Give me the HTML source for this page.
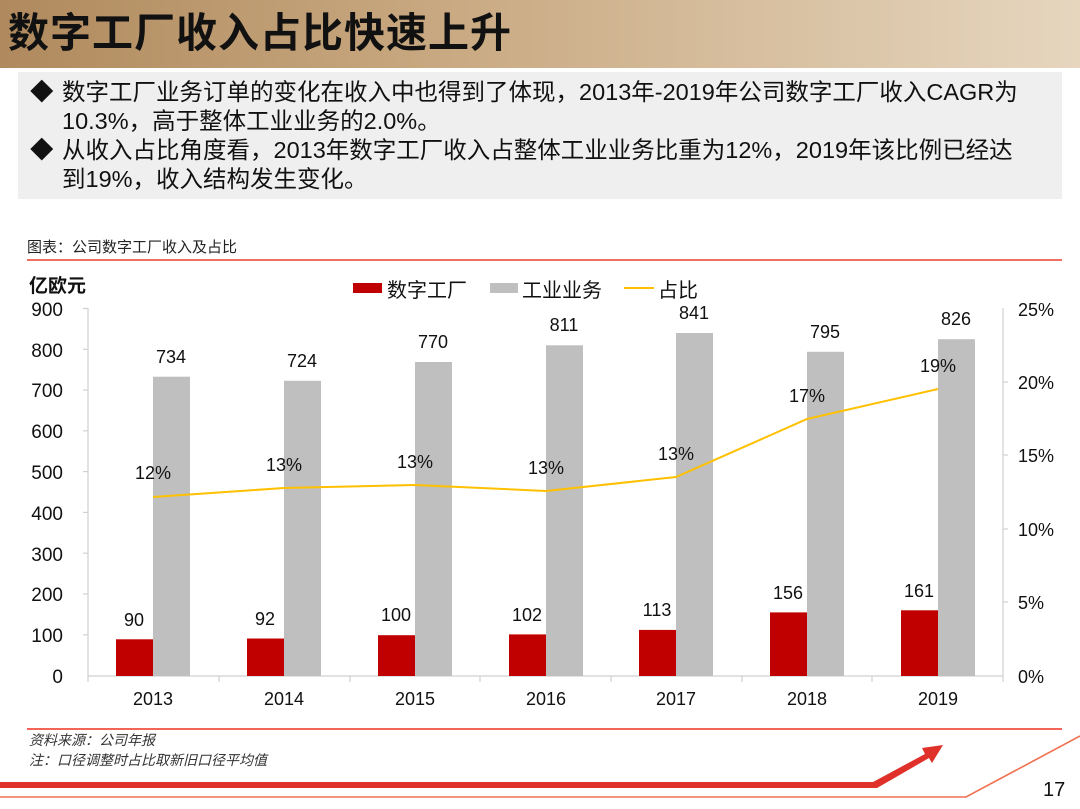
<!DOCTYPE html>
<html><head><meta charset="utf-8"><style>
body{margin:0;width:1080px;height:809px;overflow:hidden;background:#fff;font-family:"Liberation Sans","Noto Sans CJK SC",sans-serif;position:relative}
.hdr{position:absolute;left:0;top:0;width:1080px;height:68px;background:linear-gradient(90deg,#b08a5e 0%,#c8a880 40%,#e6d6bf 100%);}
.hdr h1{margin:0;position:absolute;left:8px;top:9px;font-size:41px;line-height:48px;font-weight:bold;color:#111;letter-spacing:1px}
.box{position:absolute;left:18px;top:72px;width:1044px;height:127px;background:#efefef}
.box p{margin:0;position:absolute;left:12px;font-size:23.5px;color:#111;line-height:29px;white-space:nowrap}
.box p span{display:inline-block;width:32px}
</style></head><body>
<div class="hdr"><h1>数字工厂收入占比快速上升</h1></div>
<div class="box">
<p style="top:6px"><span>◆</span>数字工厂业务订单的变化在收入中也得到了体现，2013年-2019年公司数字工厂收入CAGR为<br><span></span>10.3%，高于整体工业业务的2.0%。</p>
<p style="top:64px"><span>◆</span>从收入占比角度看，2013年数字工厂收入占整体工业业务比重为12%，2019年该比例已经达<br><span></span>到19%，收入结构发生变化。</p>
</div>
<svg width="1080" height="809" style="position:absolute;left:0;top:0" font-family="Liberation Sans, Noto Sans CJK SC, sans-serif">
<text x="27" y="252" font-size="15" fill="#222">图表：公司数字工厂收入及占比</text>
<line x1="27" y1="260" x2="1062" y2="260" stroke="#f07060" stroke-width="2"/>
<text x="29" y="292" font-size="19" font-weight="bold" fill="#111">亿欧元</text>
<rect x="353" y="283" width="29" height="10" fill="#c00000"/>
<text x="387" y="297" font-size="20" fill="#111">数字工厂</text>
<rect x="490" y="283" width="28" height="10" fill="#bfbfbf"/>
<text x="522" y="297" font-size="20" fill="#111">工业业务</text>
<line x1="624" y1="288" x2="654" y2="288" stroke="#ffc000" stroke-width="2"/>
<text x="658" y="297" font-size="20" fill="#111">占比</text>
<g stroke="#d0d0d0" stroke-width="1.2">
<line x1="88" y1="308" x2="88" y2="676"/>
<line x1="1003" y1="308" x2="1003" y2="676"/>
<line x1="88" y1="676" x2="1003" y2="676"/>
<line x1="83" y1="308.5" x2="88" y2="308.5"/><line x1="83" y1="349.3" x2="88" y2="349.3"/><line x1="83" y1="390" x2="88" y2="390"/><line x1="83" y1="430.8" x2="88" y2="430.8"/><line x1="83" y1="471.6" x2="88" y2="471.6"/><line x1="83" y1="512.4" x2="88" y2="512.4"/><line x1="83" y1="553.2" x2="88" y2="553.2"/><line x1="83" y1="594" x2="88" y2="594"/><line x1="83" y1="634.8" x2="88" y2="634.8"/>
<line x1="1003" y1="382" x2="1008" y2="382"/><line x1="1003" y1="455" x2="1008" y2="455"/><line x1="1003" y1="529" x2="1008" y2="529"/><line x1="1003" y1="602" x2="1008" y2="602"/>
<line x1="88" y1="676" x2="88" y2="682"/><line x1="219" y1="676" x2="219" y2="682"/><line x1="350" y1="676" x2="350" y2="682"/><line x1="480" y1="676" x2="480" y2="682"/><line x1="611" y1="676" x2="611" y2="682"/><line x1="742" y1="676" x2="742" y2="682"/><line x1="872" y1="676" x2="872" y2="682"/><line x1="1003" y1="676" x2="1003" y2="682"/>
</g>
<g font-size="19" fill="#111" text-anchor="end">
<text x="63" y="316">900</text><text x="63" y="357">800</text><text x="63" y="397">700</text><text x="63" y="438">600</text><text x="63" y="479">500</text><text x="63" y="520">400</text><text x="63" y="561">300</text><text x="63" y="601">200</text><text x="63" y="642">100</text><text x="63" y="683">0</text>
</g>
<g font-size="18" fill="#111">
<text x="1018" y="316">25%</text><text x="1018" y="389">20%</text><text x="1018" y="462">15%</text><text x="1018" y="536">10%</text><text x="1018" y="609">5%</text><text x="1018" y="683">0%</text>
</g>
<g font-size="18" fill="#111" text-anchor="middle">
<text x="153" y="705">2013</text><text x="284" y="705">2014</text><text x="415" y="705">2015</text><text x="546" y="705">2016</text><text x="676" y="705">2017</text><text x="807" y="705">2018</text><text x="938" y="705">2019</text>
</g>
<g fill="#c00000">
<rect x="116" y="639.3" width="37" height="36.7"/><rect x="247" y="638.5" width="37" height="37.5"/><rect x="378" y="635.2" width="37" height="40.8"/><rect x="509" y="634.4" width="37" height="41.6"/><rect x="639" y="629.9" width="37" height="46.1"/><rect x="770" y="612.4" width="37" height="63.6"/><rect x="901" y="610.3" width="37" height="65.7"/>
</g>
<g fill="#bfbfbf">
<rect x="153" y="376.7" width="37" height="299.3"/><rect x="284" y="380.8" width="37" height="295.2"/><rect x="415" y="362" width="37" height="314"/><rect x="546" y="345.3" width="37" height="330.7"/><rect x="676" y="333" width="37" height="343"/><rect x="807" y="351.8" width="37" height="324.2"/><rect x="938" y="339.2" width="37" height="336.8"/>
</g>
<g font-size="18" fill="#111" text-anchor="middle">
<text x="134" y="626">90</text><text x="265" y="625">92</text><text x="396" y="621">100</text><text x="527" y="621">102</text><text x="657" y="616">113</text><text x="788" y="599">156</text><text x="919" y="597">161</text>
<text x="171" y="363">734</text><text x="302" y="367">724</text><text x="433" y="348">770</text><text x="564" y="331">811</text><text x="694" y="319">841</text><text x="825" y="338">795</text><text x="956" y="325">826</text>
<text x="153" y="479">12%</text><text x="284" y="471">13%</text><text x="415" y="468">13%</text><text x="546" y="474">13%</text><text x="676" y="460">13%</text><text x="807" y="402">17%</text><text x="938" y="372">19%</text>
</g>
<polyline points="153,497 284,488 415,485 546,491 676,477 807,419 938,389" fill="none" stroke="#ffc000" stroke-width="2"/>
<line x1="27" y1="729" x2="1062" y2="729" stroke="#f03020" stroke-width="1.5"/>
<text x="29" y="745" font-size="14" font-style="italic" fill="#333">资料来源：公司年报</text>
<text x="29" y="765" font-size="14" font-style="italic" fill="#333">注：口径调整时占比取新旧口径平均值</text>
<path d="M0,782 L873,782 L925,754 L922,748 L943,745 L932,763 L929,758 L877,788 L0,788 Z" fill="#e0302a"/>
<polyline points="0,797 966,797 1080,736" fill="none" stroke="#f07050" stroke-width="1.6"/>
<text x="1043" y="796" font-size="20" fill="#111">17</text>
</svg>
</body></html>
